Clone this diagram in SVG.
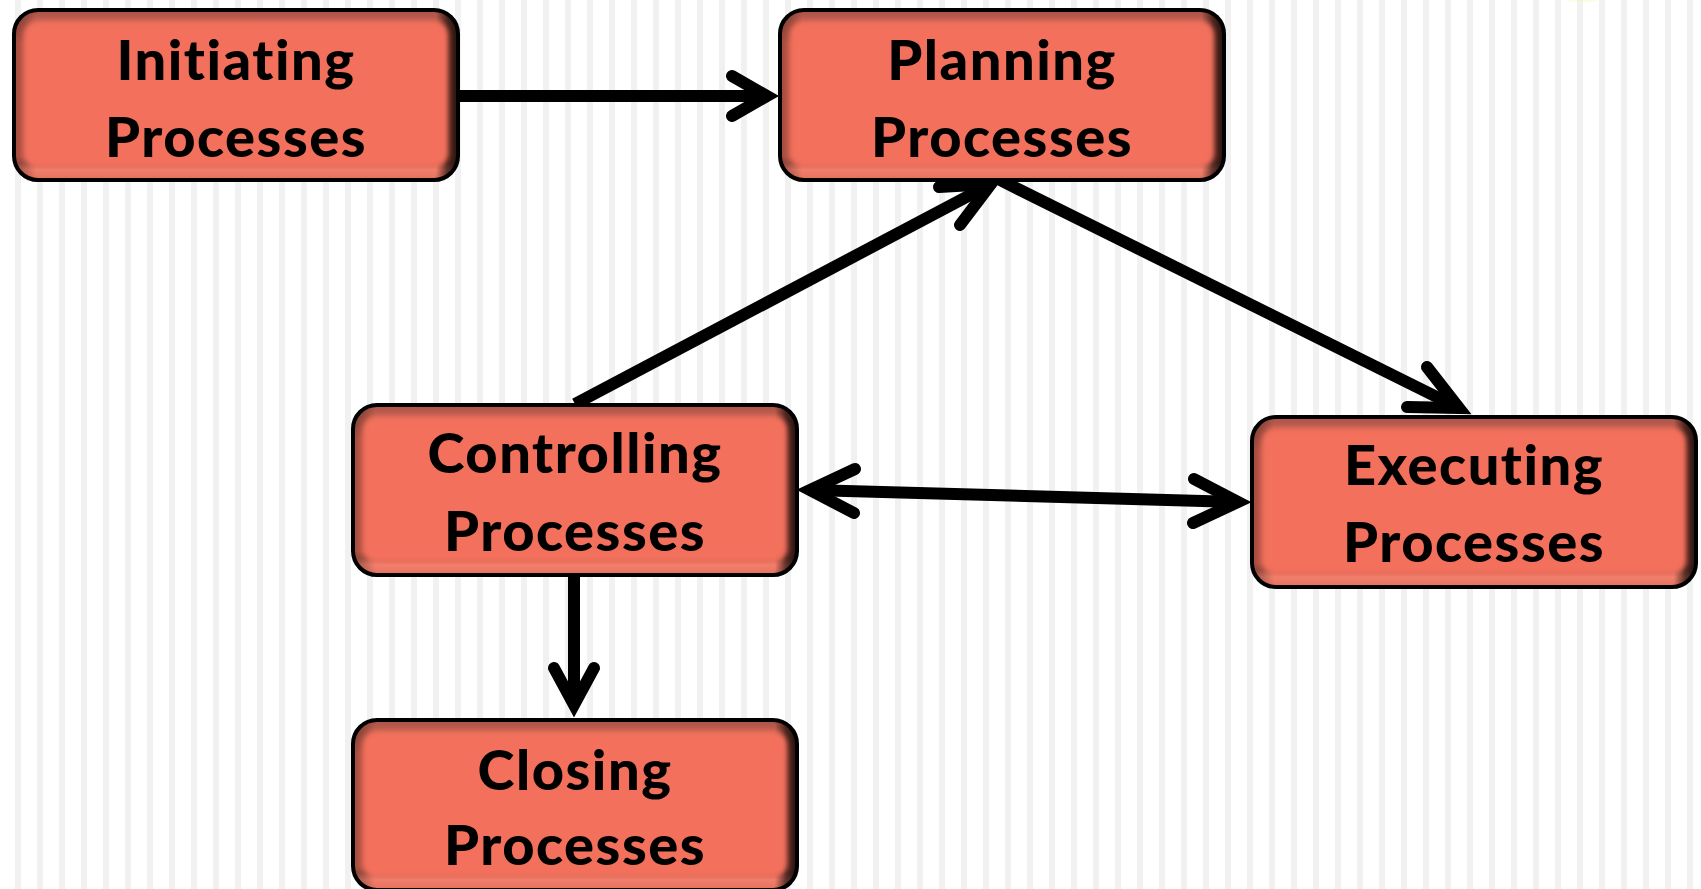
<svg xmlns="http://www.w3.org/2000/svg" width="1701" height="889" viewBox="0 0 1701 889">
<defs>
  <pattern id="stripes" x="15" y="0" width="22" height="20" patternUnits="userSpaceOnUse">
    <rect x="0" y="0" width="6" height="20" fill="#f1f1f1"/>
  </pattern>
  <radialGradient id="glow" cx="0.5" cy="0.5" r="0.5">
    <stop offset="0" stop-color="#f4e83a" stop-opacity="0.9"/>
    <stop offset="0.7" stop-color="#f6ee70" stop-opacity="0.5"/>
    <stop offset="1" stop-color="#ffffff" stop-opacity="0"/>
  </radialGradient>
  <linearGradient id="vgrad" x1="0" y1="0" x2="0" y2="1">
    <stop offset="0" stop-color="#a9544a"/>
    <stop offset="0.08" stop-color="#c4604f"/>
    <stop offset="0.2" stop-color="#f2705b"/>
    <stop offset="0.86" stop-color="#f2705b"/>
    <stop offset="0.9" stop-color="#c96352"/>
    <stop offset="0.94" stop-color="#f2806d"/>
    <stop offset="1" stop-color="#e2705d"/>
  </linearGradient>
  <linearGradient id="hgrad" x1="0" y1="0" x2="1" y2="0">
    <stop offset="0" stop-color="#000" stop-opacity="0.35"/>
    <stop offset="0.025" stop-color="#000" stop-opacity="0.2"/>
    <stop offset="0.05" stop-color="#000" stop-opacity="0"/>
    <stop offset="0.95" stop-color="#000" stop-opacity="0"/>
    <stop offset="0.975" stop-color="#000" stop-opacity="0.6"/>
    <stop offset="1" stop-color="#000" stop-opacity="0.85"/>
  </linearGradient>
  <filter id="soft" x="-5%" y="-10%" width="110%" height="120%">
    <feGaussianBlur stdDeviation="2.5"/>
  </filter>
  <g id="box">
    <rect x="2" y="2" width="444" height="170" rx="24" fill="url(#vgrad)"/>
    <rect x="2" y="2" width="444" height="170" rx="24" fill="url(#hgrad)"/>
    <rect x="12" y="13" width="424" height="146" rx="14" fill="#f2705b" filter="url(#soft)"/>
    <rect x="2" y="2" width="444" height="170" rx="24" fill="none" stroke="#000" stroke-width="4"/>
  </g>
</defs>
<style>
  .lbl { font-family: Lato, "Noto Sans", "Liberation Sans", sans-serif; font-weight: 900; font-size: 56px; fill: #000; text-anchor: middle; letter-spacing: 1.5px; }
  .ln { fill: none; stroke: #000; stroke-width: 12; stroke-linecap: butt; }
  .hd { fill: none; stroke: #000; stroke-width: 12; stroke-linecap: round; stroke-linejoin: miter; stroke-miterlimit: 10; }
</style>
<rect x="0" y="0" width="1701" height="889" fill="#ffffff"/>
<rect x="0" y="0" width="1701" height="889" fill="url(#stripes)"/>
<ellipse cx="1583" cy="-12" rx="40" ry="16" fill="url(#glow)"/>

<g id="connectors">
  <line class="ln" x1="460" y1="96" x2="767" y2="96"/>
  <polyline class="hd" points="732,76 767,96 732,116"/>

  <line class="ln" x1="575" y1="404" x2="991" y2="184"/>
  <polyline class="hd" points="939,187 991,184 960,225"/>

  <line class="ln" x1="1000" y1="180" x2="1459" y2="408"/>
  <polyline class="hd" points="1427,367 1459,408 1407,407"/>

  <line class="ln" x1="810" y1="490" x2="1238" y2="502"/>
  <polyline class="hd" points="855,469 810,490 854,513"/>
  <polyline class="hd" points="1194,479 1238,502 1193,523"/>

  <line class="ln" x1="574" y1="575" x2="574" y2="705"/>
  <polyline class="hd" points="554,668 574,705 594,668"/>
</g>

<g id="initiating" transform="translate(12,8)">
  <use href="#box"/>
  <text class="lbl" x="224" y="72">Initiating</text>
  <text class="lbl" x="224" y="149">Processes</text>
</g>
<g id="planning" transform="translate(778,8)">
  <use href="#box"/>
  <text class="lbl" x="224" y="72">Planning</text>
  <text class="lbl" x="224" y="149">Processes</text>
</g>
<g id="controlling" transform="translate(351,403)">
  <use href="#box"/>
  <text class="lbl" x="224" y="70">Controlling</text>
  <text class="lbl" x="224" y="148">Processes</text>
</g>
<g id="executing" transform="translate(1250,415)">
  <use href="#box"/>
  <text class="lbl" x="224" y="70">Executing</text>
  <text class="lbl" x="224" y="147">Processes</text>
</g>
<g id="closing" transform="translate(351,718)">
  <use href="#box"/>
  <text class="lbl" x="224" y="72">Closing</text>
  <text class="lbl" x="224" y="147">Processes</text>
</g>
</svg>
